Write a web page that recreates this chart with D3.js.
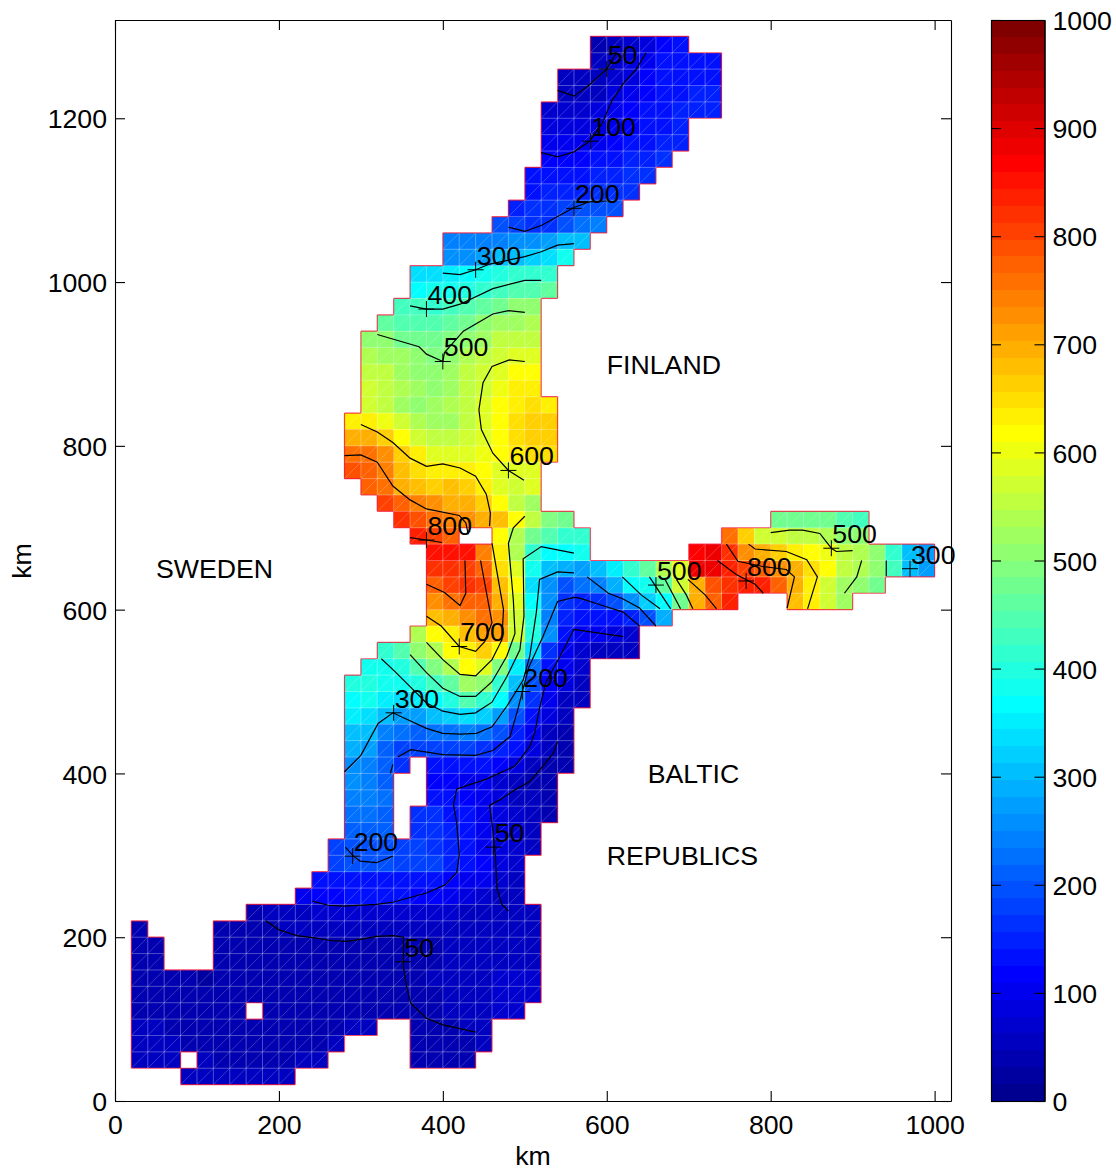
<!DOCTYPE html>
<html>
<head>
  <meta charset="UTF-8">
  <style>
    body { margin: 0; background: #fff; }
    svg { display: block; }
    text { font-family: "Liberation Sans", Helvetica, Arial, sans-serif; fill: #000; }
  </style>
</head>
<body>
  <svg></svg>
<script src="https://d3js.org/d3.v7.min.js"></script>

<script>

// depth on a 20 km grid: lower edge of each row, x of its first cell, cell values (null = no water)
const cellSize = 20;
const _ = null;

const rowY = [1280,1260,1240,1220,1200,1180,1160,1140,1120,1100,1080,1060,1040,1020,1000,980,960,940,920,900,880,860,840,820,800,780,760,740,720,700,680,660,640,620,600,580,560,540,520,500,480,460,440,420,400,380,360,340,320,300,280,260,240,220,200,180,160,140,120,100,80,60,40,20];

const rowX0 = [580,580,540,540,520,520,520,520,500,500,480,460,400,400,360,360,340,320,300,300,300,300,300,280,280,280,280,300,320,340,360,380,380,380,380,380,360,320,300,280,280,280,280,280,280,280,280,280,280,260,260,240,220,160,20,20,20,20,20,20,20,20,20,80];

const rowDepth = [
  [45,60,70,85,115,125],
  [55,65,80,95,125,130,135,135],
  [50,50,55,70,90,110,130,135,140,140],
  [60,50,60,80,100,120,135,140,145,145],
  [70,70,70,80,95,115,130,140,145,150,150],
  [85,85,85,90,105,120,135,140,150],
  [105,100,100,105,120,130,140,150,155],
  [120,120,120,125,135,145,150,160],
  [125,135,135,135,145,150,160,165],
  [130,145,150,150,160,165,170],
  [155,165,170,180,190,195,195],
  [190,180,170,170,200,230,240],
  [235,235,235,240,250,260,280,300,310],
  [265,265,275,300,310,320,340,375],
  [335,340,350,370,385,400,410,415,420],
  [370,375,385,395,420,430,440,450,455],
  [430,425,420,425,440,460,480,500,510],
  [460,450,440,440,460,480,500,520,530,540],
  [510,500,480,470,470,490,510,530,550,560,560],
  [540,530,520,500,490,510,540,560,570,580,590],
  [560,550,530,510,500,520,550,570,590,610,620],
  [570,555,540,520,510,530,555,575,600,630,625],
  [570,550,530,510,530,545,560,590,620,640,650,640],
  [625,625,600,570,540,530,530,560,580,620,650,670,660],
  [690,700,660,610,570,550,550,570,590,610,650,670,670],
  [760,760,720,660,630,590,580,590,600,620,630,650,650],
  [790,770,740,680,650,625,625,630,610,590,590,590],
  [780,750,700,680,670,680,670,640,590,570,580],
  [800,780,740,720,700,700,670,620,560,520],
  [820,790,760,740,720,690,680,610,560,490,470,_,_,_,_,_,_,_,_,_,_,_,_,470,480,480,480,440,430],
  [830,810,780,_,_,620,540,470,440,420,410,_,_,_,_,_,_,_,_,750,665,575,570,560,550,540,510,500],
  [850,850,850,740,630,540,410,370,360,375,_,_,_,_,_,_,870,880,820,720,690,670,640,620,600,550,540,500,410,300,280],
  [820,820,810,770,650,590,380,300,290,270,300,350,410,460,540,590,880,880,830,800,770,730,690,650,610,560,540,510,430,310,280],
  [780,800,820,810,680,610,340,260,200,220,240,290,370,390,460,570,700,790,820,840,830,780,700,640,570,530,500,470],
  [730,760,780,780,700,580,360,250,170,150,170,200,250,320,370,470,700,770,830,_,_,_,680,630,570,525],
  [680,690,720,760,720,570,400,240,150,125,130,140,150,190,290],
  [545,610,640,680,710,710,570,400,260,125,100,95,80,78],
  [410,440,500,545,610,630,670,610,470,340,165,108,75,62,58,52],
  [375,385,400,450,490,545,610,590,490,350,220,125,95,75],
  [400,395,375,375,400,430,465,520,510,410,300,190,120,91,55],
  [370,375,355,340,350,370,400,440,420,370,260,170,105,62,48],
  [355,340,300,270,270,300,320,340,320,270,190,125,91,55],
  [310,300,235,225,215,225,225,240,225,190,150,108,62,42],
  [290,270,210,185,185,175,175,175,165,145,125,91,62,42],
  [260,240,205,165,_,125,135,130,125,118,92,62,42,38],
  [250,240,215,_,_,115,115,105,95,76,61,45,42],
  [240,240,225,_,_,125,125,115,95,80,62,52,45],
  [230,230,215,_,160,160,135,125,105,88,70,55,45],
  [215,215,205,_,165,160,145,130,105,88,70,55],
  [175,190,200,190,185,175,165,150,130,105,88,70,55],
  [175,195,200,200,185,185,175,150,130,110,88,70],
  [125,125,130,135,135,130,125,125,120,105,95,78,58],
  [100,112,120,125,125,125,125,120,112,100,88,75,62,55],
  [45,50,55,60,65,70,75,75,75,75,70,70,65,60,60,55,60,60],
  [45,_,_,_,_,42,44,45,46,48,50,50,50,50,50,50,50,50,50,50,52,55,55,58,60],
  [45,45,_,_,_,40,42,44,45,46,46,46,46,46,46,46,46,46,46,48,50,52,55,58,60],
  [45,45,_,_,_,40,42,42,44,44,44,44,44,44,44,44,44,44,46,48,52,55,58,60,62],
  [42,40,36,32,30,32,36,40,42,42,42,42,42,42,42,42,42,44,48,52,56,60,64,68,72],
  [44,42,38,36,36,36,38,42,42,42,42,42,42,42,42,42,42,42,46,52,58,62,66,70,75],
  [46,44,42,42,42,42,42,_,44,44,44,44,44,44,44,44,42,42,46,52,58,62,66,70],
  [50,48,46,44,44,44,44,44,44,44,44,46,46,48,48,_,_,42,42,44,48,52],
  [55,52,48,46,44,44,44,44,44,44,46,46,48,_,_,_,_,42,42,44,46,48],
  [58,55,50,_,48,46,46,46,46,46,48,48,_,_,_,_,_,46,44,44,46],
  [50,48,48,48,48,50,52]
];

// contour lines, in km
const contourLines = [
  [[184,220],[200,209],[222,202],[246,199],[262,196],[283,195],[303,198],[319,201],[340,202],[352,200],[352,164],[356,138],[361,119],[380,101],[400,93],[440,84]],
  [[241,244],[260,239],[279,238],[319,240],[340,243],[380,254],[403,264],[417,279],[420,301],[417,339],[413,362],[417,381],[453,393],[488,409],[506,433],[512,449],[518,480],[526,512],[543,543],[560,576],[620,567]],
  [[480,232],[472,240],[466,260],[464,301],[461,331],[457,361],[470,368],[488,380],[506,390],[522,409],[535,425],[540,439]],
  [[281,310],[291,299],[299,293],[319,291],[339,299]],
  [[336,400],[339,411]],
  [[345,420],[361,429],[400,423],[440,422],[461,428],[482,445],[492,480],[497,500],[505,530],[522,567],[540,610],[560,615],[567,614],[592,606],[620,597],[640,580]],
  [[280,402],[300,422],[321,461],[339,474],[380,455],[400,449],[421,448],[441,449],[460,457],[478,482],[498,514],[506,543],[514,596],[518,637],[540,646],[560,645]],
  [[576,640],[602,620],[620,613],[640,602],[660,580]],
  [[325,540],[341,525],[360,506],[380,486],[400,476],[421,472],[440,474],[460,487],[478,518],[494,551],[499,592],[498,662],[520,677],[560,669]],
  [[619,640],[642,618],[665,601]],
  [[360,545],[380,523],[400,504],[421,494],[440,494],[460,512],[478,543],[488,571],[486,612],[480,681],[486,700],[500,714]],
  [[652,640],[678,601]],
  [[380,560],[400,539],[421,521],[440,519],[460,539],[472,563],[474,600],[460,681]],
  [[671,637],[690,601]],
  [[380,592],[398,580],[420,555],[440,549],[451,561],[460,584],[446,660]],
  [[685,637],[697,618],[705,601]],
  [[380,631],[402,621],[421,605],[428,620],[427,660]],
  [[699,637],[720,618],[734,601]],
  [[360,688],[380,685],[399,682]],
  [[735,660],[758,643],[781,631],[791,620]],
  [[280,788],[300,789],[320,780],[339,751],[360,734],[380,723],[420,715],[428,706],[431,692]],
  [[746,680],[760,659],[789,653],[819,649],[829,640],[820,602]],
  [[300,826],[320,817],[339,804],[360,785],[380,775],[400,778],[421,773],[440,763],[453,741],[458,718],[457,702]],
  [[773,680],[781,674],[819,671],[844,661],[857,640],[845,601]],
  [[500,903],[481,905],[460,897],[449,877],[444,844],[447,820],[461,791],[480,770],[499,758]],
  [[800,694],[823,697],[839,697],[860,693],[874,675],[880,671],[900,672]],
  [[320,936],[371,921],[380,912],[400,903],[402,914],[425,940],[461,961],[480,965],[500,963]],
  [[911,660],[905,640],[890,620]],
  [[360,971],[380,967],[400,967],[421,973],[461,992],[500,1002],[520,1002]],
  [[941,660],[941,641]],
  [[400,1011],[421,1009],[440,1015],[457,1022],[500,1031],[520,1037],[540,1045],[560,1047]],
  [[480,1067],[500,1062],[520,1069],[560,1091],[579,1098],[600,1099]],
  [[520,1158],[540,1153],[560,1159],[579,1172],[595,1195],[606,1221],[620,1242],[636,1260],[648,1280]],
  [[540,1234],[560,1227],[579,1241],[600,1260],[612,1280]]
];

const labelText = ["50","100","200","300","400","500","600","800","700","300","200","50","200","50","500","800","500","300"];
const labelX = [600,580,560,440,380,400,480,380,420,340,497,462,290,352,660,770,874,970];
const labelY = [1260,1172,1090,1015,967,903,770,685,555,474,500,310,299,170,630,635,675,650];

const placeNames = ["SWEDEN","FINLAND","BALTIC","REPUBLICS"];
const placeX = [50,600,650,600];
const placeY = [650,900,400,300];

const xTicks = [0,200,400,600,800,1000];
const yTicks = [0,200,400,600,800,1000,1200];
const barTicks = [0,100,200,300,400,500,600,700,800,900,1000];

const jetStops = [0,0.125,0.375,0.625,0.875,1];
const jetColors = ["#000080","#0000ff","#00ffff","#ffff00","#ff0000","#800000"];
const levels = 64;
const fontSize = 26.7;

let width = 1116,
    height = 1170;

let svg = d3.select("svg")
    .attr("width", width)
    .attr("height", height);

let x = d3.scaleLinear().domain([0, 1020]).range([115, 951]);
let y = d3.scaleLinear().domain([0, 1320]).range([1101, 20]);
let bar = d3.scaleLinear().domain([0, 1000]).range([1101, 20]);

let jet = d3.scaleLinear().domain(jetStops).range(jetColors);
let levelColor = i => jet((i + 1) / levels);
let depthColor = v => levelColor(Math.min(levels - 1, Math.floor(v / 1000 * levels)));

// flatten the rows to cells
let cells = [];
let water = new Set();
rowDepth.forEach((row, r) => {
  row.forEach((v, i) => {
    if (v === null) return;
    let c = {x: rowX0[r] + i * cellSize, y: rowY[r], v: v};
    cells.push(c);
    water.add(c.x + "," + c.y);
  });
});

svg.append("g")
  .selectAll("rect")
  .data(cells)
  .enter()
  .append("rect")
    .attr("x", d => x(d.x))
    .attr("y", d => y(d.y + cellSize))
    .attr("width", d => x(d.x + cellSize) - x(d.x))
    .attr("height", d => y(d.y) - y(d.y + cellSize))
    .attr("shape-rendering", "crispEdges")
    .style("fill", d => depthColor(d.v));

// triangle mesh on top of the cells
let seg = (x0, y0, x1, y1) => "M" + x(x0) + "," + y(y0) + "L" + x(x1) + "," + y(y1);
let mesh = "", diag = "", edge = "";
cells.forEach(d => {
  let s = cellSize, l = d.x, r = d.x + s, b = d.y, t = d.y + s;
  mesh += seg(l, b, r, b) + seg(l, t, r, t) + seg(l, b, l, t) + seg(r, b, r, t);
  diag += seg(l, b, r, t);
  if (!water.has((l - s) + "," + b)) edge += seg(l, b, l, t);
  if (!water.has((l + s) + "," + b)) edge += seg(r, b, r, t);
  if (!water.has(l + "," + (b - s))) edge += seg(l, b, r, b);
  if (!water.has(l + "," + (b + s))) edge += seg(l, t, r, t);
});

svg.append("path").attr("d", mesh)
    .attr("fill", "none").attr("stroke", "#fff").attr("stroke-opacity", 0.17).attr("stroke-width", 1);
svg.append("path").attr("d", diag)
    .attr("fill", "none").attr("stroke", "#fff").attr("stroke-opacity", 0.27).attr("stroke-width", 0.8);
svg.append("path").attr("d", edge)
    .attr("fill", "none").attr("stroke", "#f01030").attr("stroke-opacity", 0.75).attr("stroke-width", 1.2);

// contours
let line = d3.line().x(d => x(d[0])).y(d => y(d[1]));

svg.append("g")
    .attr("id", "contours")
  .selectAll("path")
  .data(contourLines)
  .enter()
  .append("path")
    .attr("d", line)
    .attr("fill", "none")
    .attr("stroke", "#000")
    .attr("stroke-width", 1.2);

let labels = svg.append("g").selectAll("g")
  .data(labelText)
  .enter()
  .append("g")
    .attr("transform", (d, i) => "translate(" + x(labelX[i]) + "," + y(labelY[i]) + ")");

labels.append("path")
    .attr("d", "M-8,0H8M0,-8V8")
    .attr("stroke", "#000")
    .attr("stroke-width", 1);

labels.append("text")
    .attr("x", 1)
    .attr("y", -5)
    .attr("font-size", fontSize)
    .text(d => d);

svg.append("g").selectAll("text")
  .data(placeNames)
  .enter()
  .append("text")
    .attr("x", (d, i) => x(placeX[i]))
    .attr("y", (d, i) => y(placeY[i]))
    .attr("dy", "0.36em")
    .attr("font-size", fontSize)
    .text(d => d);

// axes, ticks point inwards on all four sides
function styleAxis(g) {
  g.selectAll("text").attr("font-size", fontSize).style("font-family", "inherit").attr("fill", "#000");
  g.selectAll("line,path").attr("stroke", "#000").attr("stroke-width", 1.1);
}

svg.append("g")
    .attr("transform", "translate(0,1101)")
    .call(d3.axisBottom(x).tickValues(xTicks).tickFormat(d3.format("d")).tickSizeInner(-10).tickSizeOuter(0).tickPadding(14))
    .call(styleAxis);
svg.append("g")
    .attr("transform", "translate(0,20)")
    .call(d3.axisTop(x).tickValues(xTicks).tickFormat("").tickSizeInner(-10).tickSizeOuter(0))
    .call(styleAxis);
svg.append("g")
    .attr("transform", "translate(115,0)")
    .call(d3.axisLeft(y).tickValues(yTicks).tickFormat(d3.format("d")).tickSizeInner(-10).tickSizeOuter(0).tickPadding(8))
    .call(styleAxis)
    .call(g => g.selectAll("text").attr("dy", "0.36em"));
svg.append("g")
    .attr("transform", "translate(951,0)")
    .call(d3.axisRight(y).tickValues(yTicks).tickFormat("").tickSizeInner(-10).tickSizeOuter(0))
    .call(styleAxis);

svg.append("text")
    .attr("x", 533).attr("y", 1165)
    .attr("text-anchor", "middle")
    .attr("font-size", fontSize)
    .text("km");

svg.append("text")
    .attr("transform", "translate(31,561) rotate(-90)")
    .attr("text-anchor", "middle")
    .attr("font-size", fontSize)
    .text("km");

// colorbar
svg.append("g")
  .selectAll("rect")
  .data(d3.range(levels))
  .enter()
  .append("rect")
    .attr("x", 991)
    .attr("width", 54)
    .attr("y", i => bar((i + 1) * 1000 / levels))
    .attr("height", i => bar(i * 1000 / levels) - bar((i + 1) * 1000 / levels))
    .attr("shape-rendering", "crispEdges")
    .style("fill", levelColor);

svg.append("g")
    .attr("transform", "translate(991,0)")
    .call(d3.axisLeft(bar).tickValues(barTicks).tickFormat("").tickSizeInner(-10).tickSizeOuter(0))
    .call(styleAxis);
svg.append("g")
    .attr("transform", "translate(1044.5,0)")
    .call(d3.axisRight(bar).tickValues(barTicks).tickFormat(d3.format("d")).tickSizeInner(-10).tickSizeOuter(0).tickPadding(8))
    .call(styleAxis)
    .call(g => g.selectAll("text").attr("dy", "0.36em"));

svg.append("rect")
    .attr("x", 991.5).attr("y", 20.5)
    .attr("width", 53.5).attr("height", 1081)
    .attr("fill", "none").attr("stroke", "#000").attr("stroke-width", 1.1);

</script>

</body>
</html>
